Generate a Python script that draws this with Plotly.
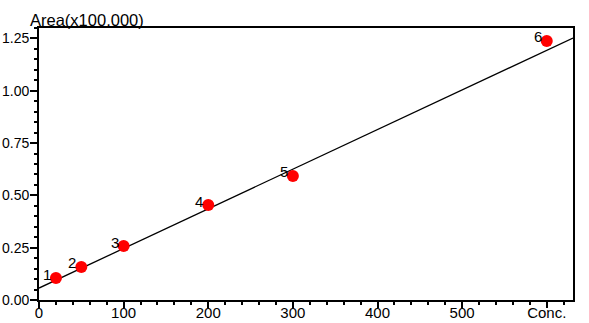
import plotly.graph_objects as go

# Data
point_ids = ["1", "2", "3", "4", "5", "6"]
conc = [20, 50, 100, 200, 300, 600]
area = [0.105, 0.158, 0.258, 0.454, 0.593, 1.238]

fit_x = [0, 631]
fit_y = [0.057, 1.252]

x_tickvals = [0, 100, 200, 300, 400, 500, 600]
x_ticktext = ["0", "100", "200", "300", "400", "500", "Conc."]
y_tickvals = [0.00, 0.25, 0.50, 0.75, 1.00, 1.25]
y_ticktext = ["0.00", "0.25", "0.50", "0.75", "1.00", "1.25"]

FONT = "Liberation Sans, Arial, sans-serif"

fig = go.Figure()
fig.add_trace(go.Scatter(x=fit_x, y=fit_y, mode="lines",
                         line=dict(color="black", width=1.3),
                         hoverinfo="skip", showlegend=False))
fig.add_trace(go.Scatter(x=conc, y=area, mode="markers",
                         marker=dict(color="#ff0000", size=12, line=dict(width=0)),
                         showlegend=False))

for pid, xv, yv in zip(point_ids, conc, area):
    fig.add_annotation(x=xv, y=yv, text=pid, showarrow=False,
                       xanchor="right", yanchor="middle", xshift=-3, yshift=4,
                       font=dict(family=FONT, size=15, color="black"))

fig.add_annotation(xref="paper", yref="paper", x=-11/534, y=1, text="Area(x100,000)",
                   showarrow=False, xanchor="left", yanchor="bottom", yshift=-3,
                   font=dict(family=FONT, size=16.5, color="black"))

fig.update_xaxes(range=[0, 631], tickvals=x_tickvals, ticktext=x_ticktext,
                 ticks="outside", ticklen=6, tickwidth=1.5, tickcolor="black",
                 ticklabelstandoff=-8,
                 minor=dict(dtick=20, tick0=0, ticks="outside", ticklen=3, tickwidth=1.5, tickcolor="black"),
                 showline=True, linecolor="black", linewidth=2, mirror=True,
                 showgrid=False, zeroline=False,
                 tickfont=dict(family=FONT, size=15, color="black"))
fig.update_yaxes(range=[0, 1.30], tickvals=y_tickvals, ticktext=y_ticktext,
                 ticks="outside", ticklen=7, tickwidth=1.5, tickcolor="black",
                 ticklabelstandoff=-2,
                 minor=dict(dtick=0.05, tick0=0, ticks="outside", ticklen=3, tickwidth=1.5, tickcolor="black"),
                 showline=True, linecolor="black", linewidth=2, mirror=True,
                 showgrid=False, zeroline=False,
                 tickfont=dict(family=FONT, size=14, color="black"))

fig.update_layout(width=589, height=323,
                  margin=dict(l=39, r=16, t=28, b=23, autoexpand=False),
                  plot_bgcolor="white", paper_bgcolor="white")

fig.write_html("out.html", config={"displayModeBar": False},
               post_script="document.body.style.margin='0';document.body.style.overflow='hidden';")
